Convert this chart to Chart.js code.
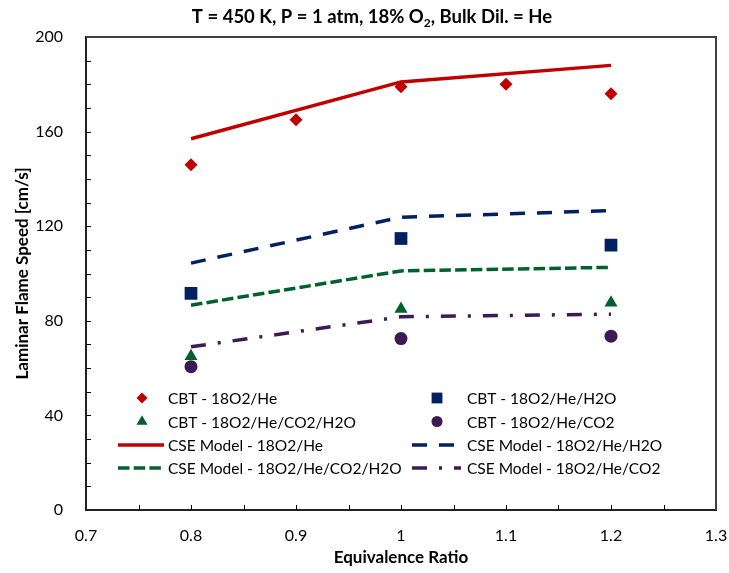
<!DOCTYPE html>
<html>
<head>
<meta charset="utf-8">
<script src="https://cdn.jsdelivr.net/npm/chart.js@4"></script>
<style>
  html, body { margin: 0; padding: 0; background: #fff; }
  #wrap { width: 729px; height: 573px; }
</style>
</head>
<body>
<div id="wrap"><canvas id="myChart"></canvas></div>
<script>
// equivalence ratios
const phiHe = [0.8, 0.9, 1.0, 1.1, 1.2];
const phi = [0.8, 1.0, 1.2];

// CBT measurements
const cbtHe = [146, 165, 179, 180, 176];
const cbtH2O = [91.6, 114.8, 112];
const cbtCO2H2O = [65, 85, 87.6];
const cbtCO2 = [60.6, 72.5, 73.5];

// CSE model
const cseHe = [157, 181, 188];
const cseH2O = [104.4, 123.8, 126.6];
const cseCO2H2O = [86.6, 101.1, 102.6];
const cseCO2 = [69, 81.7, 82.8];

const pts = (xs, ys) => xs.map((x, i) => ({ x: x, y: ys[i] }));

const FONT = "Lato, 'Open Sans', sans-serif";

const red = "#C00000";
const navy = "#002060";
const green = "#00602E";
const purple = "#3C1A56";

const datasets = [
  { label: "CBT - 18O2/He", data: pts(phiHe, cbtHe), pointStyle: "rectRot", pointRadius: 6.5,
    backgroundColor: red, borderColor: red, showLine: false },
  { label: "CBT - 18O2/He/H2O", data: pts(phi, cbtH2O), pointStyle: "rect", pointRadius: 9,
    backgroundColor: navy, borderColor: navy, showLine: false },
  { label: "CBT - 18O2/He/CO2/H2O", data: pts(phi, cbtCO2H2O), pointStyle: "triangle", pointRadius: 7.5,
    backgroundColor: green, borderColor: green, showLine: false },
  { label: "CBT - 18O2/He/CO2", data: pts(phi, cbtCO2), pointStyle: "circle", pointRadius: 6.5,
    backgroundColor: purple, borderColor: purple, showLine: false },
  { label: "CSE Model - 18O2/He", data: pts(phi, cseHe), borderColor: red, borderWidth: 3.5,
    pointRadius: 0, showLine: true, borderDash: [] },
  { label: "CSE Model - 18O2/He/H2O", data: pts(phi, cseH2O), borderColor: navy, borderWidth: 3.5,
    pointRadius: 0, showLine: true, borderDash: [15, 12] },
  { label: "CSE Model - 18O2/He/CO2/H2O", data: pts(phi, cseCO2H2O), borderColor: green, borderWidth: 3.5,
    pointRadius: 0, showLine: true, borderDash: [11.5, 4.2] },
  { label: "CSE Model - 18O2/He/CO2", data: pts(phi, cseCO2), borderColor: purple, borderWidth: 3.5,
    pointRadius: 0, showLine: true, borderDash: [15, 12, 3, 12] },
];
datasets.forEach(d => { d.pointBorderWidth = 0; d.fill = false; });

// title, frame, inward ticks and legend drawn on the canvas
const decor = {
  id: "decor",
  afterDraw(chart) {
    const ctx = chart.ctx;
    const a = chart.chartArea;
    const xs = chart.scales.x, ys = chart.scales.y;
    ctx.save();

    // top and right frame
    ctx.strokeStyle = "#404040";
    ctx.lineWidth = 2;
    ctx.beginPath();
    ctx.moveTo(a.left, a.top);
    ctx.lineTo(a.right, a.top);
    ctx.lineTo(a.right, a.bottom);
    ctx.stroke();

    // inward tick marks
    ctx.strokeStyle = "#000";
    ctx.lineWidth = 1;
    ctx.beginPath();
    for (let v = 10; v < 200; v += 10) {
      const y = Math.round(ys.getPixelForValue(v)) + 0.5;
      ctx.moveTo(a.left, y);
      ctx.lineTo(a.left + 5, y);
    }
    for (let k = 1; k < 12; k++) {
      const x = Math.round(xs.getPixelForValue(0.7 + k * 0.05)) + 0.5;
      ctx.moveTo(x, a.bottom);
      ctx.lineTo(x, a.bottom - 5);
    }
    ctx.stroke();

    // title with subscript
    const t1 = "T = 450 K, P = 1 atm, 18% O";
    const t2 = "2";
    const t3 = ", Bulk Dil. = He";
    const big = "bold 18.5px " + FONT, small = "bold 12px " + FONT;
    ctx.font = big;
    const w1 = ctx.measureText(t1).width, w3 = ctx.measureText(t3).width;
    ctx.font = small;
    const w2 = ctx.measureText(t2).width;
    let x0 = 372 - (w1 + w2 + w3) / 2;
    const by = 23;
    ctx.fillStyle = "#000";
    ctx.textBaseline = "alphabetic";
    ctx.textAlign = "left";
    ctx.font = big;
    ctx.fillText(t1, x0, by);
    ctx.font = small;
    ctx.fillText(t2, x0 + w1, by + 4);
    ctx.font = big;
    ctx.fillText(t3, x0 + w1 + w2, by);

    // legend, two columns
    const rows = [398, 421.5, 445, 468];
    const cols = [{ mark: 142, l0: 118, l1: 164, text: 168 }, { mark: 437, l0: 412, l1: 461, text: 467 }];
    ctx.font = "15.5px " + FONT;
    ctx.textBaseline = "middle";
    chart.data.datasets.forEach((d, i) => {
      const col = cols[i % 2];
      const y = rows[Math.floor(i / 2)];
      if (d.showLine) {
        ctx.save();
        ctx.strokeStyle = d.borderColor;
        ctx.lineWidth = d.borderWidth;
        ctx.setLineDash(d.borderDash);
        ctx.beginPath();
        ctx.moveTo(col.l0, y);
        ctx.lineTo(col.l1, y);
        ctx.stroke();
        ctx.restore();
      } else {
        ctx.fillStyle = d.backgroundColor;
        ctx.strokeStyle = d.backgroundColor;
        ctx.lineWidth = 0;
        Chart.helpers.drawPoint(ctx, { pointStyle: d.pointStyle, radius: d.pointRadius * 0.85, borderWidth: 0 }, col.mark, y);
      }
      ctx.fillStyle = "#000";
      ctx.fillText(d.label, col.text, y + 1);
    });
    ctx.restore();
  }
};

new Chart("myChart", {
  type: "scatter",
  data: { datasets: datasets },
  options: {
    responsive: true,
    maintainAspectRatio: false,
    animation: false,
    layout: { padding: { top: 37, right: 13, left: 0, bottom: 0 } },
    plugins: {
      legend: { display: false },
      tooltip: { enabled: false },
      title: { display: false },
    },
    scales: {
      x: {
        type: "linear",
        min: 0.7,
        max: 1.3,
        afterFit: (s) => { s.height = 63; s.paddingRight = 0; s.paddingLeft = 0; },
        grid: { display: false, drawTicks: false },
        border: { display: true, color: "#222", width: 2 },
        ticks: {
          stepSize: 0.1,
          padding: 16,
          color: "#000",
          font: { family: FONT, size: 16 },
          callback: (v) => String(parseFloat(v.toFixed(1))),
        },
        title: {
          display: true,
          text: "Equivalence Ratio",
          color: "#000",
          font: { family: FONT, size: 17, weight: "bold" },
          padding: { top: 0, bottom: 5 },
        },
      },
      y: {
        min: 0,
        max: 200,
        afterFit: (s) => { s.width = 86; },
        grid: { display: false, drawTicks: false },
        border: { display: true, color: "#222", width: 2 },
        ticks: {
          stepSize: 40,
          padding: 23,
          color: "#000",
          font: { family: FONT, size: 16 },
        },
        title: {
          display: true,
          text: "Laminar Flame Speed [cm/s]",
          color: "#000",
          font: { family: FONT, size: 17, weight: "bold" },
          padding: { top: 12, bottom: 0 },
        },
      },
    },
  },
  plugins: [decor],
});
</script>
</body>
</html>
